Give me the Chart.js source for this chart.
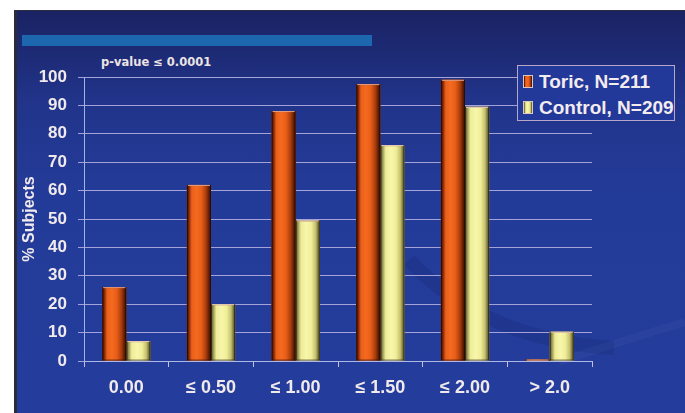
<!DOCTYPE html>
<html>
<head>
<meta charset="utf-8">
<script src="https://cdn.jsdelivr.net/npm/chart.js@4.4.1/dist/chart.umd.min.js"></script>
<style>
  html, body { margin: 0; padding: 0; background: #fff; }
  body { width: 685px; height: 413px; position: relative; overflow: hidden; }
  #panel {
    position: absolute; left: 14px; top: 10px; width: 671px; height: 403px;
    box-sizing: border-box;
    border-left: 3px solid #2a2c3c; border-top: 1px solid #2a2c44;
    background: linear-gradient(to bottom, #1a2262 0%, #21348a 22%, #233b98 45%, #243d9c 100%);
  }
  #band { position: absolute; left: 22px; top: 35px; width: 350px; height: 11px; background: #1d67ae; }
  #pval {
    position: absolute; left: 101px; top: 55px;
    font: bold 11.5px "DejaVu Sans", Verdana, sans-serif; color: #ece4e4;
  }
  #wrap { position: absolute; left: 14px; top: 10px; width: 671px; height: 403px; }
  #legend {
    position: absolute; left: 517px; top: 65px; width: 158px; height: 56px;
    border: 1px solid #b7a6c8; background: #23399a; box-sizing: border-box;
    font: bold 19px "Liberation Sans", Arial, sans-serif; color: #f3ecee;
  }
  .item { position: absolute; left: 5px; height: 22px; line-height: 22px; white-space: nowrap; }
  .sw { display: inline-block; width: 8px; height: 11px; border: 1px solid #d8c8c0; margin-right: 6px; vertical-align: 0px; }
</style>
</head>
<body>
<div id="panel"></div>
<div id="band"></div>
<div id="pval">p-value ≤ 0.0001</div>
<div id="wrap"><canvas id="chart"></canvas></div>
<div id="legend"></div>
<script>
const categories = ["0.00", "≤ 0.50", "≤ 1.00", "≤ 1.50", "≤ 2.00", "> 2.0"]
const seriesNames = ["Toric, N=211", "Control, N=209"]
const toric = [26, 62, 88, 97.5, 99, 0.5]
const control = [7, 20, 49.5, 76, 89.5, 10.3]
const yTicks = [0, 10, 20, 30, 40, 50, 60, 70, 80, 90, 100]

const stops = [
  [[0, "#2a0800"], [0.08, "#7a2206"], [0.2, "#e8601a"], [0.4, "#f56a1f"], [0.6, "#e85e18"], [0.8, "#a63c0c"], [0.93, "#5a1a04"], [1, "#2e0a00"]],
  [[0, "#3a3a14"], [0.08, "#8e8c4c"], [0.22, "#eeec98"], [0.45, "#f8f6aa"], [0.65, "#f0ee98"], [0.83, "#c4c070"], [0.95, "#6a6830"], [1, "#3a3a14"]]
]

// legend in html, from the same labels
const legend = document.getElementById("legend")
seriesNames.forEach((name, i) => {
  const el = document.createElement("div")
  el.className = "item"
  el.style.top = (i === 0 ? 5 : 31) + "px"
  const css = stops[i].map(s => s[1] + " " + (s[0] * 100) + "%").join(",")
  el.innerHTML = '<span class="sw" style="background:linear-gradient(to right,' + css + ')"></span>' + name
  legend.appendChild(el)
})

// shade the bars like cylinders using the bar geometry chart.js computed
const cylinder = {
  id: "cylinder",
  beforeDraw(chart) {
    const ctx = chart.ctx
    ctx.save()
    ctx.strokeStyle = "rgba(12,20,70,0.14)"
    ctx.lineWidth = 14
    ctx.beginPath()
    ctx.moveTo(395, 250)
    ctx.quadraticCurveTo(470, 330, 600, 338)
    ctx.stroke()
    ctx.strokeStyle = "rgba(120,140,210,0.08)"
    ctx.lineWidth = 8
    ctx.beginPath()
    ctx.moveTo(545, 352)
    ctx.quadraticCurveTo(610, 330, 671, 312)
    ctx.stroke()
    ctx.restore()
  },
  afterDatasetsDraw(chart) {
    const ctx = chart.ctx
    chart.data.datasets.forEach((ds, di) => {
      chart.getDatasetMeta(di).data.forEach(bar => {
        const p = bar.getProps(["x", "y", "base", "width"], true)
        const l = p.x - p.width / 2
        const g = ctx.createLinearGradient(l, 0, l + p.width, 0)
        stops[di].forEach(s => g.addColorStop(s[0], s[1]))
        ctx.save()
        ctx.fillStyle = g
        ctx.fillRect(l, p.y, p.width, p.base - p.y)
        ctx.strokeStyle = "rgba(30,10,0,0.5)"
        ctx.lineWidth = 1
        ctx.strokeRect(l + 0.5, p.y + 0.5, p.width - 1, p.base - p.y - 1)
        ctx.strokeStyle = di === 0 ? "rgba(240,170,140,0.95)" : "rgba(250,215,200,0.95)"
        ctx.beginPath()
        ctx.moveTo(l + 1, p.y + 0.5)
        ctx.lineTo(l + p.width - 1, p.y + 0.5)
        ctx.stroke()
        ctx.restore()
      })
    })
  }
}

const textColor = "#f1eaec"
const gridColor = "#a4a2d8"

new Chart(document.getElementById("chart"), {
  type: "bar",
  data: {
    labels: categories,
    datasets: [
      { label: seriesNames[0], data: toric, backgroundColor: "#f2661c" },
      { label: seriesNames[1], data: control, backgroundColor: "#f5f39f" }
    ]
  },
  options: {
    responsive: true,
    maintainAspectRatio: false,
    animation: false,
    layout: { padding: { top: 67, right: 93, left: 0, bottom: 0 } },
    datasets: { bar: { categoryPercentage: 0.57, barPercentage: 1.0 } },
    plugins: { legend: { display: false }, tooltip: { enabled: false } },
    scales: {
      x: {
        afterFit(scale) { scale.height = 52 },
        grid: {
          offset: true,
          drawOnChartArea: true,
          color: c => (c.index === categories.length ? "#c6a6c8" : "rgba(0,0,0,0)"),
          tickColor: "#c9bfd6",
          tickLength: 6
        },
        border: { color: "#b0b8e6", width: 1 },
        ticks: {
          color: textColor,
          padding: 10,
          font: { family: "'Liberation Sans', Arial, sans-serif", size: 18, weight: "bold" }
        }
      },
      y: {
        min: 0,
        max: 100,
        afterFit(scale) { scale.width = 70 },
        afterBuildTicks(scale) { scale.ticks = yTicks.map(v => ({ value: v })) },
        grid: { color: gridColor, tickColor: gridColor, tickLength: 6 },
        border: { color: "#9fb4ea", width: 1 },
        ticks: {
          color: textColor,
          padding: 11,
          font: { family: "'Liberation Sans', Arial, sans-serif", size: 17, weight: "bold" }
        },
        title: {
          display: true,
          text: "% Subjects",
          color: textColor,
          padding: { top: 6 },
          font: { family: "'Liberation Sans', Arial, sans-serif", size: 16, weight: "bold" }
        }
      }
    }
  },
  plugins: [cylinder]
})
</script>
</body>
</html>
